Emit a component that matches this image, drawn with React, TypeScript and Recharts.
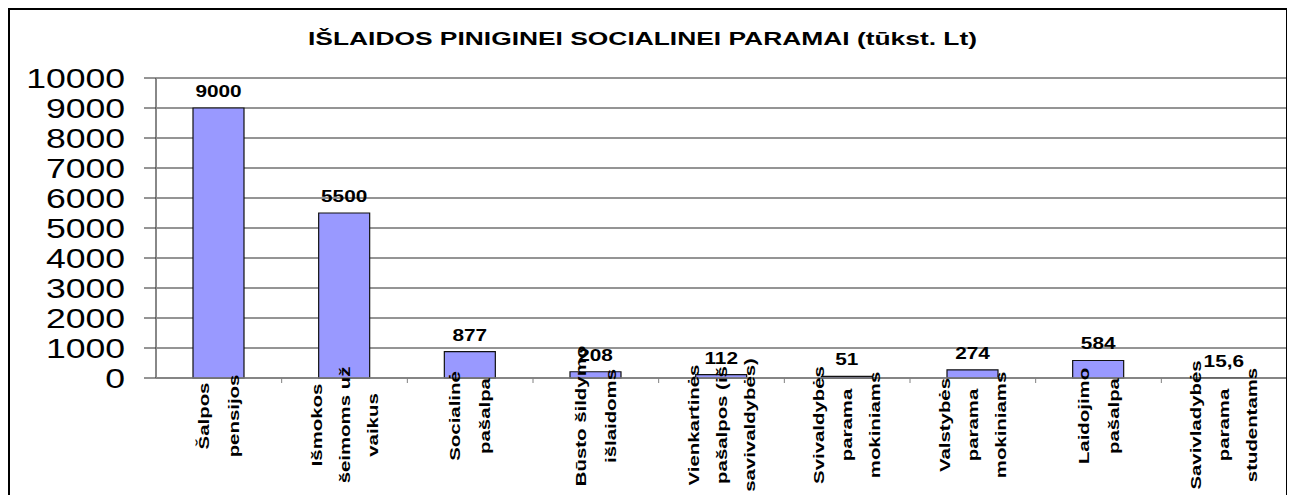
import React from 'react';
import { BarChart, Bar, XAxis, YAxis, CartesianGrid, LabelList } from 'recharts';

const categories = [
  'Šalpos\npensijos',
  'Išmokos\nšeimoms už\nvaikus',
  'Socialinė\npašalpa',
  'Būsto šildymo\nišlaidoms',
  'Vienkartinės\npašalpos (iš\nsavivaldybės)',
  'Svivaldybės\nparama\nmokiniams',
  'Valstybės\nparama\nmokiniams',
  'Laidojimo\npašalpa',
  'Savivladybės\nparama\nstudentams',
];
const values = [9000, 5500, 877, 208, 112, 51, 274, 584, 15.6];
const yTicks = [0, 1000, 2000, 3000, 4000, 5000, 6000, 7000, 8000, 9000, 10000];
const title = 'IŠLAIDOS PINIGINEI SOCIALINEI PARAMAI (tūkst. Lt)';

const data = categories.map((name, i) => ({ name, value: values[i] }));

const FONT = '"Liberation Sans", Arial, sans-serif';
const W = 1280;
const H = 520;
const MARGIN = { top: 70, right: 1, left: 0, bottom: 30 };
const Y_AXIS_W = 148;
const X_AXIS_H = 120;
const PLOT_BOTTOM = H - MARGIN.bottom - X_AXIS_H;
const PLOT_W = W - MARGIN.left - MARGIN.right - Y_AXIS_W;
const BAND = PLOT_W / categories.length;

const YTick = (props: any) => {
  const { x, y, payload } = props;
  return (
    <text
      transform={`translate(${x},${y + 10}) scale(1.27,1)`}
      textAnchor="end"
      fontFamily={FONT}
      fontSize={28}
      fill="#000"
    >
      {payload.value}
    </text>
  );
};

const XTick = (props: any) => {
  const { x, payload, index } = props;
  const lines = String(payload.value).split('\n');
  const n = lines.length;
  const spacing = n === 2 ? 30 : 28;
  const cy = PLOT_BOTTOM + (n === 2 ? 38 : 47);
  return (
    <g>
      {index > 0 && (
        <line
          x1={x - BAND / 2}
          x2={x - BAND / 2}
          y1={PLOT_BOTTOM}
          y2={PLOT_BOTTOM + 5}
          stroke="#808080"
          strokeWidth={1}
        />
      )}
      {lines.map((ln, i) => {
        const cx = x + (i - (n - 1) / 2) * spacing;
        return (
          <text
            key={i}
            transform={`translate(${cx + 5},${cy}) rotate(-90) scale(1.36,1)`}
            textAnchor="middle"
            fontFamily={FONT}
            fontWeight="bold"
            fontSize={15}
            fill="#000"
          >
            {ln}
          </text>
        );
      })}
    </g>
  );
};

const ValueLabel = (props: any) => {
  const { x, y, width, value } = props;
  const txt = String(value).replace('.', ',');
  return (
    <text
      transform={`translate(${x + width / 2},${y - 11}) scale(1.3,1)`}
      textAnchor="middle"
      fontFamily={FONT}
      fontWeight="bold"
      fontSize={16}
      fill="#000"
    >
      {txt}
    </text>
  );
};

export default function App() {
  return (
    <div style={{ position: 'relative', width: W, height: H, background: '#fff' }}>
      <BarChart width={W} height={H} data={data} margin={MARGIN}>
        <CartesianGrid horizontal vertical={false} stroke="#2a2a2a" strokeWidth={1} />
        <XAxis
          dataKey="name"
          interval={0}
          height={X_AXIS_H}
          tickLine={false}
          axisLine={{ stroke: '#808080', strokeWidth: 1.5 }}
          tick={<XTick />}
        />
        <YAxis
          width={Y_AXIS_W}
          domain={[0, 10000]}
          ticks={yTicks}
          interval={0}
          tickSize={12}
          tickMargin={19}
          tickLine={{ stroke: '#2a2a2a' }}
          axisLine={{ stroke: '#888', strokeWidth: 2 }}
          tick={<YTick />}
        />
        <Bar dataKey="value" fill="#9999FF" stroke="#111" strokeWidth={1.2} barSize={51} isAnimationActive={false}>
          <LabelList dataKey="value" content={<ValueLabel />} />
        </Bar>
      </BarChart>
      <svg
        width={W}
        height={H}
        style={{ position: 'absolute', left: 0, top: 0, pointerEvents: 'none' }}
      >
        <rect x={1} y={1} width={1278} height={H + 20} fill="none" stroke="#000" strokeWidth={2} />
        <text
          x={634.5}
          y={37}
          textAnchor="middle"
          fontFamily={FONT}
          fontWeight="bold"
          fontSize={18}
          textLength={669}
          lengthAdjust="spacingAndGlyphs"
          fill="#000"
        >
          {title}
        </text>
      </svg>
    </div>
  );
}
